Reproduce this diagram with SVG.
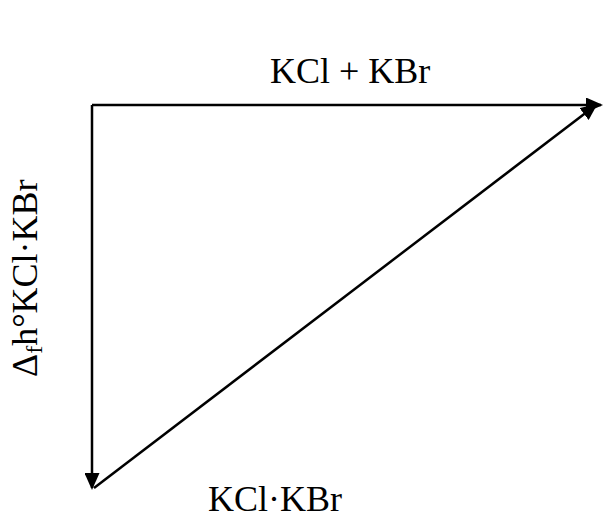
<svg xmlns="http://www.w3.org/2000/svg" width="605" height="518" viewBox="0 0 605 518">
<style>
.t{font-family:'Liberation Serif','Times New Roman','DejaVu Serif',serif;font-size:36px;fill:#000}
.ln{stroke:#000;stroke-width:2.5;fill:none}
</style>
<defs>
<marker id="ah" markerUnits="userSpaceOnUse" viewBox="0 0 17 15" refX="15" refY="7.5" markerWidth="17" markerHeight="15" orient="auto">
<path d="M0,0 L17,7.5 L0,15 z" fill="#000"/>
</marker>
</defs>
<g id="connectors">
<path class="ln" d="M92,105 L601,105" marker-end="url(#ah)"/>
<path class="ln" d="M92,105 L92,488" marker-end="url(#ah)"/>
<path class="ln" d="M94,488 L596,105" marker-end="url(#ah)"/>
</g>
<g id="top-label"><text class="t" font-family="Liberation Serif, serif" x="270" y="83">KCl + KBr</text></g>
<g id="bottom-label"><text class="t" font-family="Liberation Serif, serif" x="208" y="511">KCl·KBr</text></g>
<g id="side-label"><text class="t" font-family="Liberation Serif, serif" transform="translate(37,377) rotate(-90)">Δ<tspan font-size="24" dy="5">f</tspan><tspan dy="-5">h°KCl·KBr</tspan></text></g>
</svg>
